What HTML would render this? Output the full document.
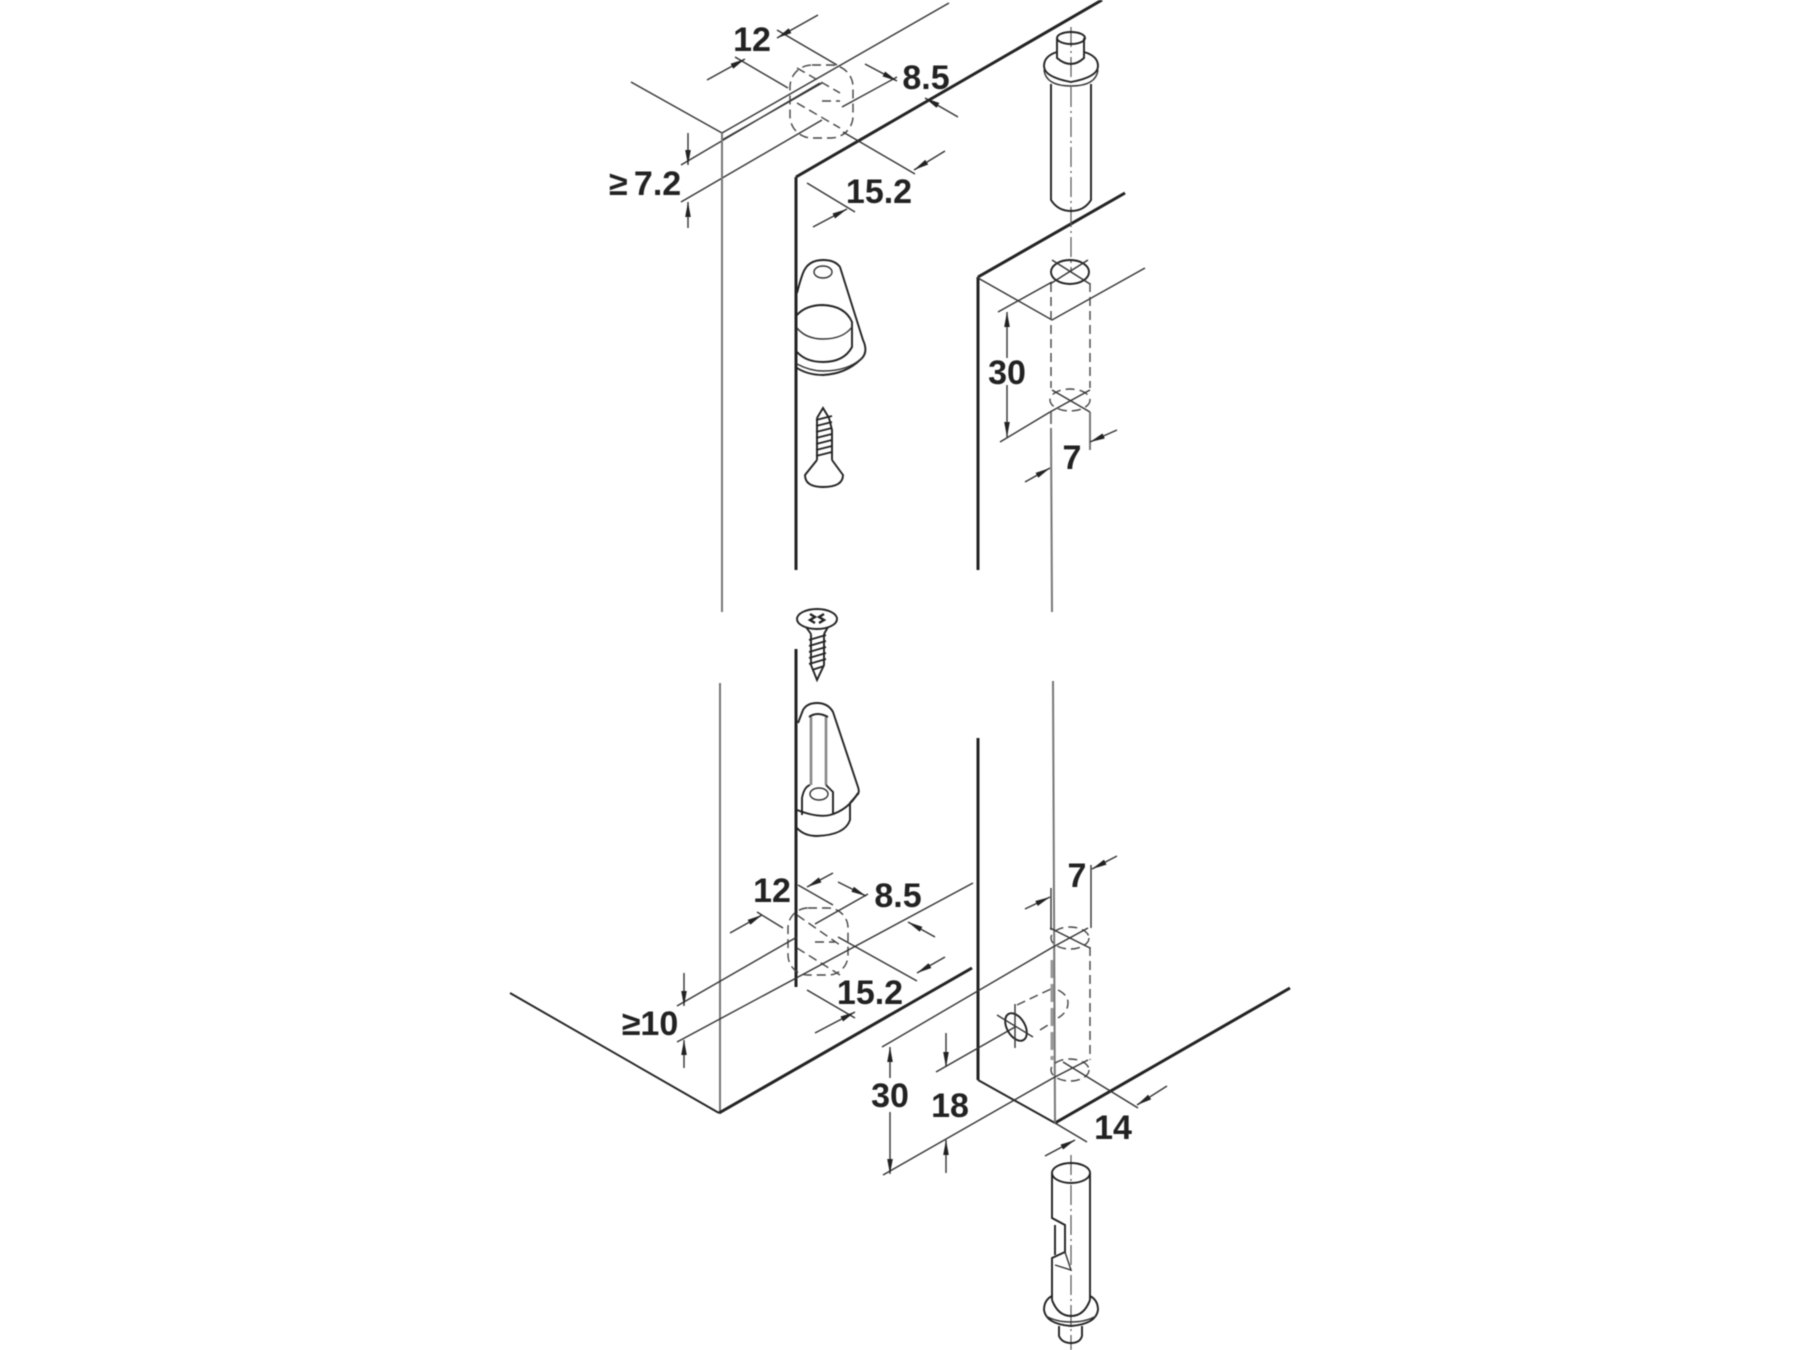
<!DOCTYPE html>
<html><head><meta charset="utf-8"><title>Assembly diagram</title>
<style>
html,body{margin:0;padding:0;background:#fff}
svg{display:block;filter:blur(.4px)}
text{font-family:"Liberation Sans",sans-serif;font-weight:bold;font-size:34px;fill:#222;text-anchor:middle}
.t{fill:none;stroke:#333;stroke-width:1.4}
.m{fill:none;stroke:#222;stroke-width:1.9}
.k{fill:none;stroke:#222;stroke-width:3}
.g{fill:none;stroke:#777;stroke-width:2}
.d{fill:none;stroke:#444;stroke-width:1.4;stroke-dasharray:9 5}
.c{fill:none;stroke:#555;stroke-width:1.2;stroke-dasharray:20 4 2 4}
.a{fill:none;stroke:#333;stroke-width:1.4;marker-end:url(#ah)}
</style></head><body>
<svg width="1800" height="1350" viewBox="0 0 1800 1350" xmlns="http://www.w3.org/2000/svg">
<defs><marker id="ah" markerUnits="userSpaceOnUse" markerWidth="16" markerHeight="8" refX="15" refY="4" orient="auto"><path d="M0 1.2L15 4L0 6.8z" fill="#222"/></marker></defs>
<rect width="1800" height="1350" fill="#fff"/>

<!-- left panel -->
<path class="t" d="M631 82L722 133M722 133L949 3M722 140L822 83M681 165L820 83M681 202L822 120"/>
<path class="g" d="M722 133V612M720 683V1113"/>
<path class="k" d="M796 177L1102 0M796 177V570M796 649V987"/>
<path class="m" d="M510 993L719 1113"/>
<path class="k" d="M719 1113L972 968"/>

<!-- right panel -->
<path class="k" d="M978 277L1125 193M978 277V570M978 738V1080"/>
<path class="m" d="M978 1080L1055 1123"/>
<path class="k" d="M1055 1123L1290 988"/>
<path class="t" d="M978 278L1052 320L1145 268M998 312L1052 282M1000 442L1050 412"/>
<path class="g" d="M1051 412V424M1051 428L1052 612M1053 681L1055 1123M1090 412V450"/>

<!-- top hole left -->
<rect class="d" x="790" y="65" width="63" height="73" rx="22"/>
<path class="d" d="M797 68L840 93M797 103L840 128M822 101H840" stroke-dasharray="6 4"/>
<path class="t" d="M777 30L837 65M735 57L788 88M897 77L842 107M843 132L915 174M807 183L855 212"/>
<path class="a" d="M818 15L777 38"/>
<path class="a" d="M707 80L745 59"/>
<path class="a" d="M865 64L897 81"/>
<path class="a" d="M958 117L925 98"/>
<path class="a" d="M945 151L914 170"/>
<path class="a" d="M813 227L847 209"/>
<path class="a" d="M688 133V165"/>
<path class="a" d="M688 228V202"/>
<text x="752" y="51">12</text>
<text x="926" y="89">8.5</text>
<text x="879" y="203">15.2</text>
<text x="645" y="195" word-spacing="-3">≥ 7.2</text>

<!-- top dowel -->
<path class="c" d="M1071 27V272"/>
<ellipse class="m" cx="1071" cy="38" rx="14" ry="6"/>
<path class="m" d="M1057 38V58Q1071 70 1084 58V38"/>
<path class="m" d="M1057 52Q1044 56 1044 66Q1044 77 1071 82Q1098 77 1098 66Q1098 56 1084 52"/>
<path class="t" d="M1044 70Q1046 86 1071 86Q1096 86 1098 70"/>
<path class="m" d="M1051 84V200Q1058 211 1071 211Q1084 211 1091 200V84"/>

<!-- right top hole -->
<ellipse class="m" cx="1070" cy="272" rx="19" ry="12"/>
<path class="t" d="M1052 260L1090 284M1050 284L1088 260"/>
<path class="d" d="M1051 283V388M1090 283V388"/>
<ellipse class="d" cx="1070" cy="400" rx="20" ry="11" stroke-dasharray="7 4"/>
<path class="t" d="M1052 390L1090 412M1050 412L1090 390"/>
<path class="a" d="M1007 358V312"/>
<path class="a" d="M1007 385V437"/>
<path class="a" d="M1025 482L1050 468"/>
<path class="a" d="M1117 430L1090 442"/>
<text x="1007" y="384">30</text>
<text x="1072" y="469">7</text>

<!-- upper bracket -->
<path class="m" d="M797 293Q800 281 803 273Q808 260 823 260Q835 260 840 267L863 340Q869 353 860 360Q845 374 823 375Q808 375 797 368"/>
<ellipse class="t" cx="823" cy="272" rx="9" ry="6"/>
<path class="m" d="M797 315Q806 305 823 305Q845 306 852 322V347Q844 362 823 362Q806 362 797 352"/>
<path class="t" d="M797 328Q806 339 823 339Q843 339 852 327M797 364Q810 371 823 371Q848 371 862 358"/>

<!-- upper screw -->
<path class="m" d="M817 418L823 408L829 418M817 418V460M829 418L832 430V460"/>
<path class="m" d="M816 420L832 416M816 426L832 422M816 432L832 428M816 438L832 434M816 444L832 440M816 450L832 446M816 456L832 452"/>
<path class="m" d="M817 460L805 475Q805 487 823 487Q843 487 843 475L832 460"/>

<!-- lower screw -->
<ellipse class="m" cx="817" cy="619" rx="20" ry="10"/>
<path d="M810 614L815 617L810 620L815 623M824 614L819 617L824 620L819 623" fill="none" stroke="#222" stroke-width="2.4"/>
<path class="m" d="M806 627L811 634M828 627L824 634M811 634V665L817 680L824 665V634"/>
<path class="m" d="M809 640L826 635M809 646L826 641M809 652L826 647M809 658L826 653M809 664L826 659M812 670L824 666"/>

<!-- lower bracket -->
<path class="m" d="M798 723L803 710Q807 703 817 703Q828 703 833 712L858 787Q860 793 857 795L850 803V820Q845 835 817 836Q804 836 797 828"/>
<path d="M811 717V785M826 717V785" fill="none" stroke="#888" stroke-width="2.6"/>
<path class="m" d="M809 717Q817 711 828 717"/>
<path class="m" d="M802 815V798Q804 787 810 785M826 785L833 792V815"/>
<ellipse class="t" cx="819" cy="794" rx="9" ry="6"/>
<path class="m" d="M797 810Q818 818 830 815Q848 810 858 793"/>

<!-- bottom hole left -->
<rect class="d" x="788" y="908" width="60" height="67" rx="20"/>
<path class="d" d="M797 915L840 945M797 948L840 975M815 942H835" stroke-dasharray="4 3"/>
<path class="t" d="M677 1006L797 937M815 924L868 894M677 1042L973 883"/>
<path class="t" d="M798 885L833 905M757 912L783 928M838 937L917 981M807 990L855 1018"/>
<path class="a" d="M833 873L807 887"/>
<path class="a" d="M730 933L762 915"/>
<path class="a" d="M838 882L866 896"/>
<path class="a" d="M935 937L908 922"/>
<path class="a" d="M945 957L917 973"/>
<path class="a" d="M815 1033L855 1012"/>
<path class="a" d="M684 973V1006"/>
<path class="a" d="M684 1068V1040"/>
<text x="772" y="902">12</text>
<text x="898" y="907">8.5</text>
<text x="870" y="1004">15.2</text>
<text x="650" y="1035">≥10</text>

<!-- right bottom holes -->
<path class="t" d="M882 1047L1053 947M883 1175L1053 1078M936 1072L1015 1027"/>
<ellipse class="m" cx="1016" cy="1027" rx="9" ry="15" transform="rotate(-30 1016 1027)"/>
<path class="t" d="M997 1015L1033 1037M1015 1004V1048"/>
<path class="d" d="M1017 1005L1053 988M1040 1030L1053 1022M1058 990Q1068 995 1068 1003Q1068 1012 1058 1018"/>
<path class="d" d="M1090 947V1060"/>
<path d="M1052 960V1060" stroke="#999" stroke-width="3" stroke-dasharray="18 6" fill="none"/>
<ellipse class="d" cx="1070" cy="938" rx="19" ry="11" stroke-dasharray="7 3"/>
<ellipse class="d" cx="1070" cy="1070" rx="19" ry="11" stroke-dasharray="7 3"/>
<path class="t" d="M1050 928L1090 948M1053 947L1088 928M1053 1078L1088 1060M1063 1062L1138 1108M1091 865V928M1051 888V930M1055 1123L1087 1142"/>
<path class="a" d="M1117 856L1092 869"/>
<path class="a" d="M1025 909L1050 897"/>
<path class="a" d="M1167 1086L1137 1105"/>
<path class="a" d="M1045 1156L1075 1140"/>
<path class="a" d="M890 1078V1047"/>
<path class="a" d="M890 1112V1174"/>
<path class="a" d="M946 1033V1067"/>
<path class="a" d="M946 1173V1140"/>
<text x="890" y="1107">30</text>
<text x="950" y="1117">18</text>
<text x="1113" y="1139">14</text>
<text x="1077" y="887">7</text>

<!-- bottom dowel -->
<path class="c" d="M1071 1155V1350"/>
<ellipse class="m" cx="1071" cy="1173" rx="19" ry="10"/>
<path class="m" d="M1052 1173V1218L1065 1225V1252L1052 1258V1300M1090 1173V1300M1055 1225V1255"/>
<path class="t" d="M1055 1265L1071 1270L1065 1252"/>
<path class="m" d="M1052 1296Q1044 1300 1044 1310Q1046 1324 1071 1326Q1096 1324 1098 1310Q1098 1300 1090 1296"/>
<path class="m" d="M1052 1300Q1058 1316 1071 1316Q1084 1316 1090 1300"/>
<path class="t" d="M1046 1316Q1056 1322 1071 1322Q1086 1322 1096 1316"/>
<path class="m" d="M1059 1326V1336Q1062 1343 1071 1343Q1080 1343 1082 1336V1326"/>
</svg>
</body></html>
